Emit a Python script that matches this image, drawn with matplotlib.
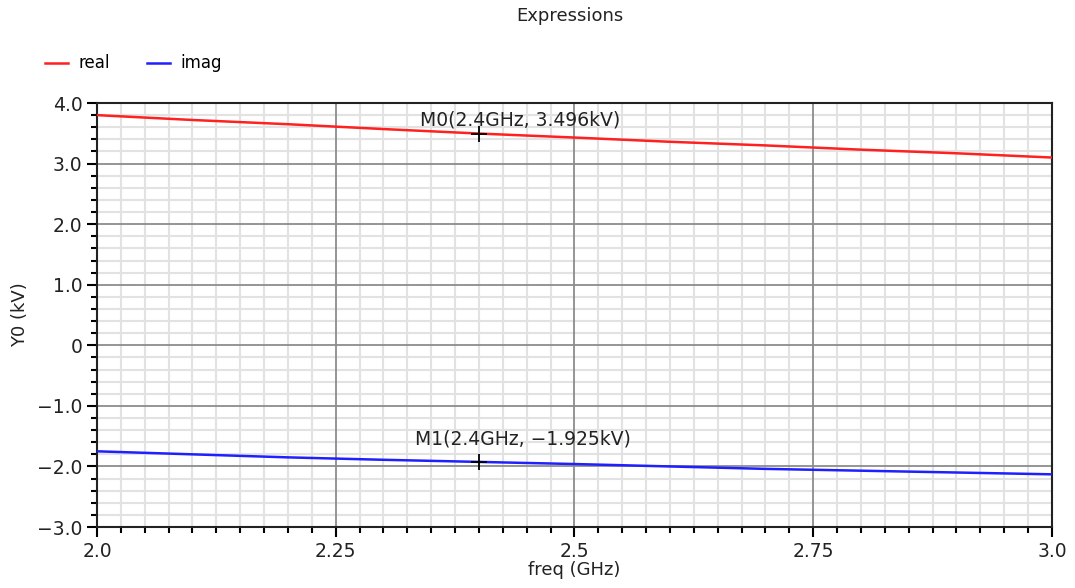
import matplotlib
matplotlib.use("Agg")
import matplotlib.pyplot as plt
from matplotlib.ticker import FixedLocator, FixedFormatter

# frequency points (GHz) and Y0 values (kV)
freq = [2.0, 2.1, 2.2, 2.3, 2.4, 2.5, 2.6, 2.7, 2.8, 2.9, 3.0]
y0_real = [3.80, 3.72, 3.65, 3.57, 3.496, 3.43, 3.36, 3.30, 3.23, 3.17, 3.10]
y0_imag = [-1.75, -1.80, -1.85, -1.89, -1.925, -1.96, -2.00, -2.04, -2.07, -2.10, -2.13]

# markers
marker_x = [2.4, 2.4]
marker_y = [3.496, -1.925]
marker_text = ["M0(2.4GHz, 3.496kV)", "M1(2.4GHz, \u22121.925kV)"]

xticks = [2.0, 2.25, 2.5, 2.75, 3.0]
xtick_labels = ["2.0", "2.25", "2.5", "2.75", "3.0"]
yticks = [-3, -2, -1, 0, 1, 2, 3, 4]
ytick_labels = ["\u22123.0", "\u22122.0", "\u22121.0", "0", "1.0", "2.0", "3.0", "4.0"]

# minor ticks between the majors (skip the major positions)
xminor = [2.0 + i * 0.025 for i in range(41) if i % 10 != 0]
yminor = [-3.0 + i * 0.2 for i in range(36) if i % 5 != 0]

fig = plt.figure(figsize=(10.75, 5.88), dpi=100)
ax = fig.add_axes([0.0902, 0.1037, 0.8884, 0.7211])

ax.set_xlim(2.0, 3.0)
ax.set_ylim(-3.0, 4.0)

ax.xaxis.set_major_locator(FixedLocator(xticks))
ax.xaxis.set_major_formatter(FixedFormatter(xtick_labels))
ax.xaxis.set_minor_locator(FixedLocator(xminor))
ax.yaxis.set_major_locator(FixedLocator(yticks))
ax.yaxis.set_major_formatter(FixedFormatter(ytick_labels))
ax.yaxis.set_minor_locator(FixedLocator(yminor))
ax.grid(which="minor", color="#e2e2e2", linewidth=1.5)
ax.set_axisbelow(True)

# major grid drawn on top of the minor one
for xv in xticks[1:-1]:
    ax.axvline(xv, color="#8c8c8c", linewidth=1.3, zorder=1)
for yv in yticks[1:-1]:
    ax.axhline(yv, color="#8c8c8c", linewidth=1.3, zorder=1)

ax.tick_params(which="major", direction="out", length=7, width=1.5, color="black",
               labelsize=13.5, labelcolor="#222222")
ax.tick_params(which="minor", direction="out", length=4, width=1.5, color="black")
for s in ax.spines.values():
    s.set_linewidth(1.5)
    s.set_color("#222222")

ax.plot(freq, y0_real, color="#ff2020", linewidth=1.8, label="real", zorder=3)
ax.plot(freq, y0_imag, color="#2020ff", linewidth=1.8, label="imag", zorder=3)

ax.plot(marker_x, marker_y, "+", color="black", markersize=12, markeredgewidth=1.3, zorder=4)
offsets = [(-59, 14), (-64, 23)]
for mx, my, txt, off in zip(marker_x, marker_y, marker_text, offsets):
    ax.annotate(txt, (mx, my), xytext=off, textcoords="offset pixels",
                ha="left", va="center", fontsize=13.5, color="#222222", zorder=5)

ax.set_xlabel("freq (GHz)", fontsize=13, color="#222222", labelpad=0)
ax.set_ylabel("Y0 (kV)", fontsize=13, color="#222222", labelpad=6)

fig.text(0.53, 0.973, "Expressions", ha="center", va="center", fontsize=13, color="#222222")

fig.legend(loc="upper left", bbox_to_anchor=(0.028, 0.933), ncol=2, frameon=False,
           fontsize=12, handlelength=1.4, handletextpad=0.6, columnspacing=2.2)

fig.savefig("out.png", dpi=100, facecolor="white")
